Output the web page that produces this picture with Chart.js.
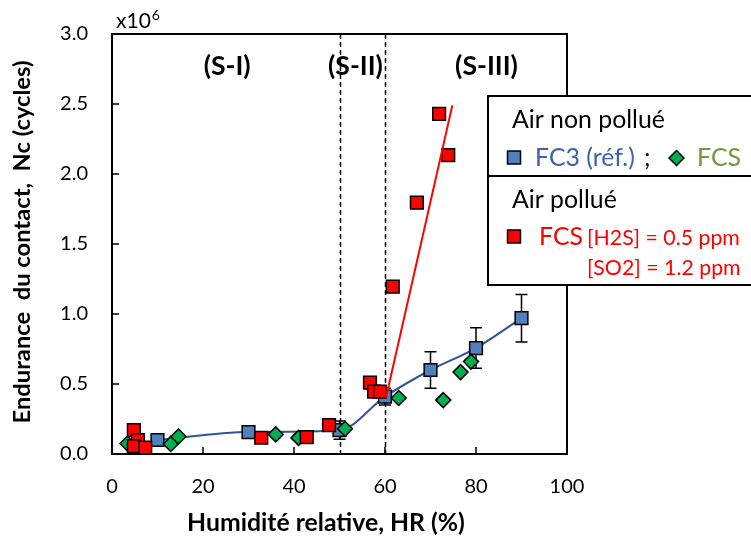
<!DOCTYPE html>
<html><head><meta charset="utf-8">
<script src="https://cdn.jsdelivr.net/npm/chart.js@4/dist/chart.umd.min.js"></script>
<style>html,body{margin:0;padding:0;background:#fff}#c{display:block}</style>
</head><body>
<canvas id="c" width="751" height="544"></canvas>
<script>
// ---- data ----
const xTickValues = [0, 20, 40, 60, 80, 100];
const yTickValues = [0, 0.5, 1.0, 1.5, 2.0, 2.5, 3.0];
const fc3X   = [10, 30, 50, 60, 70, 80, 90];
const fc3Y   = [0.10, 0.157, 0.17, 0.41, 0.60, 0.757, 0.97];
const fc3Err = [0, 0, 0.065, 0.06, 0.13, 0.145, 0.17];
const fcsX   = [3.4, 12.9, 14.6, 36.0, 41.0, 51.2, 63.0, 72.8, 76.6, 78.9];
const fcsY   = [0.075, 0.072, 0.125, 0.14, 0.115, 0.18, 0.40, 0.385, 0.585, 0.66];
const polX   = [4.8, 5.7, 4.8, 7.3, 32.8, 42.8, 47.7, 56.7, 57.6, 58.9, 61.7, 67.0, 71.9, 73.9];
const polY   = [0.17, 0.10, 0.057, 0.045, 0.116, 0.12, 0.207, 0.51, 0.445, 0.445, 1.195, 1.795, 2.43, 2.135];
const polFitX = [60.2, 74.8];
const polFitY = [0.40, 2.49];
const zoneBounds = [50, 60];
const zoneLabels = ['(S-I)', '(S-II)', '(S-III)'];
const zoneLabelX = [25.3, 53.5, 82.3];

const FONT = 'Lato, "Open Sans", sans-serif';
const pts = (xs, ys) => xs.map((x, i) => ({x: x, y: ys[i]}));

function fitFont(ctx, text, weight, target) {
  ctx.font = weight + ' 20px ' + FONT;
  const w = ctx.measureText(text).width;
  return 20 * target / w;
}

const decor = {
  id: 'decor',
  beforeDatasetsDraw(chart) {
    const ctx = chart.ctx, xs = chart.scales.x, ys = chart.scales.y, a = chart.chartArea;
    ctx.save();
    ctx.strokeStyle = '#000'; ctx.lineWidth = 1.5; ctx.setLineDash([5, 3]);
    zoneBounds.forEach(v => {
      const px = Math.round(xs.getPixelForValue(v)) + 0.5;
      ctx.beginPath(); ctx.moveTo(px, a.top); ctx.lineTo(px, a.bottom); ctx.stroke();
    });
    ctx.setLineDash([]);
    ctx.lineWidth = 1.5;
    fc3X.forEach((x, i) => {
      const e = fc3Err[i]; if (!e) return;
      const px = xs.getPixelForValue(x);
      const t = ys.getPixelForValue(fc3Y[i] + e), b = ys.getPixelForValue(fc3Y[i] - e);
      ctx.beginPath();
      ctx.moveTo(px, t); ctx.lineTo(px, b);
      ctx.moveTo(px - 6, t); ctx.lineTo(px + 6, t);
      ctx.moveTo(px - 6, b); ctx.lineTo(px + 6, b);
      ctx.stroke();
    });
    ctx.restore();
  },
  afterDraw(chart) {
    const ctx = chart.ctx, xs = chart.scales.x, ys = chart.scales.y, a = chart.chartArea;
    ctx.save();
    ctx.strokeStyle = '#000'; ctx.lineWidth = 2;
    ctx.strokeRect(a.left, a.top, a.right - a.left, a.bottom - a.top);
    ctx.lineWidth = 1.5;
    ctx.beginPath();
    xs.ticks.forEach(t => { const p = xs.getPixelForValue(t.value); ctx.moveTo(p, a.bottom); ctx.lineTo(p, a.bottom - 7); });
    ys.ticks.forEach(t => { const p = ys.getPixelForValue(t.value); ctx.moveTo(a.left, p); ctx.lineTo(a.left + 7, p); });
    ctx.stroke();
    ctx.fillStyle = '#000';
    ctx.textAlign = 'center'; ctx.textBaseline = 'middle';
    const zs = fitFont(ctx, '(S-I)', 'bold', 47);
    ctx.font = 'bold ' + zs + 'px ' + FONT;
    zoneLabels.forEach((s, i) => ctx.fillText(s, xs.getPixelForValue(zoneLabelX[i]), 66));
    ctx.textAlign = 'left'; ctx.textBaseline = 'alphabetic';
    ctx.font = '21px ' + FONT;
    ctx.fillText('x10', 116, 28);
    const w10 = ctx.measureText('x10').width;
    ctx.font = '14px ' + FONT;
    ctx.fillText('6', 116 + w10 + 1, 20);
    const yt = 'Endurance  du contact,  Nc (cycles)';
    ctx.font = 'bold ' + fitFont(ctx, yt, 'bold', 363) + 'px ' + FONT;
    ctx.save(); ctx.translate(22, 242); ctx.rotate(-Math.PI / 2);
    ctx.textAlign = 'center'; ctx.textBaseline = 'middle';
    ctx.fillText(yt, 0, 0); ctx.restore();
    const xt = 'Humidité relative, HR (%)';
    ctx.font = 'bold ' + fitFont(ctx, xt, 'bold', 278) + 'px ' + FONT;
    ctx.textAlign = 'center'; ctx.textBaseline = 'middle';
    ctx.fillText(xt, 326, 523);
    ctx.fillStyle = '#fff';
    ctx.fillRect(488, 96, 300, 189);
    ctx.strokeStyle = '#000'; ctx.lineWidth = 2;
    ctx.strokeRect(488, 96, 300, 189);
    ctx.beginPath(); ctx.moveTo(488, 176); ctx.lineTo(751, 176); ctx.stroke();
    const ls = fitFont(ctx, 'Air non pollué', 'normal', 153);
    const big = ls + 'px ' + FONT;
    const small = fitFont(ctx, '[H2S] = 0.5 ppm', 'normal', 153) + 'px ' + FONT;
    ctx.textAlign = 'left'; ctx.textBaseline = 'alphabetic';
    ctx.font = big; ctx.fillStyle = '#000';
    ctx.fillText('Air non pollué', 512, 128);
    ctx.fillText('Air pollué', 512, 208);
    ctx.lineWidth = 1.5; ctx.strokeStyle = '#000';
    ctx.fillStyle = '#4f81bd'; ctx.fillRect(507.5, 151, 13, 13); ctx.strokeRect(507.5, 151, 13, 13);
    ctx.fillStyle = '#ff0000'; ctx.fillRect(507.5, 230, 13, 13); ctx.strokeRect(507.5, 230, 13, 13);
    ctx.fillStyle = '#00b050';
    ctx.beginPath(); ctx.moveTo(676.5, 150.5); ctx.lineTo(684, 158); ctx.lineTo(676.5, 165.5); ctx.lineTo(669, 158); ctx.closePath();
    ctx.fill(); ctx.stroke();
    ctx.font = big;
    ctx.fillStyle = '#3c64a4'; ctx.fillText('FC3 (réf.)', 535, 166);
    ctx.fillStyle = '#000'; ctx.fillText(';', 644, 166);
    ctx.fillStyle = '#6f9a3c'; ctx.fillText('FCS', 697, 166);
    ctx.fillStyle = '#ff0000'; ctx.fillText('FCS', 539, 245);
    ctx.font = small;
    ctx.fillText('[H2S] = 0.5 ppm', 587, 245);
    ctx.fillText('[SO2] = 1.2 ppm', 587, 275);
    ctx.restore();
  }
};

new Chart(document.getElementById('c'), {
  type: 'scatter',
  data: {
    datasets: [
      { label: 'fit', data: pts(polFitX, polFitY), showLine: true, borderColor: '#ff0000', borderWidth: 2, pointRadius: 0, order: 0 },
      { label: 'FCS pollué', data: pts(polX, polY), pointStyle: 'rect', pointRadius: 9, backgroundColor: '#ff0000', borderColor: '#000', borderWidth: 1.5, order: 1 },
      { label: 'FCS', data: pts(fcsX, fcsY), pointStyle: 'rectRot', pointRadius: 7.5, backgroundColor: '#00b050', borderColor: '#000', borderWidth: 1.5, order: 2 },
      { label: 'FC3 (réf.)', data: pts(fc3X, fc3Y), showLine: true, cubicInterpolationMode: 'monotone', borderColor: '#2f5597', borderWidth: 2,
        pointStyle: 'rect', pointRadius: 9, pointBackgroundColor: '#4f81bd', pointBorderColor: '#000', pointBorderWidth: 1.5, order: 3 }
    ]
  },
  options: {
    responsive: false, animation: false, events: [],
    layout: { padding: { left: 0, top: 34, right: 184, bottom: 0 } },
    plugins: { legend: { display: false }, tooltip: { enabled: false } },
    scales: {
      x: {
        type: 'linear', min: 0, max: 100,
        afterBuildTicks: s => { s.ticks = xTickValues.map(v => ({value: v})); },
        ticks: { color: '#000', font: { family: FONT, size: 20 }, padding: 21, callback: v => String(v) },
        grid: { display: false, drawTicks: false }, border: { display: false },
        afterFit: s => { s.height = 90; s.paddingLeft = 0; s.paddingRight = 0; }
      },
      y: {
        type: 'linear', min: 0, max: 3,
        afterBuildTicks: s => { s.ticks = yTickValues.map(v => ({value: v})); },
        ticks: { color: '#000', font: { family: FONT, size: 20 }, padding: 24, callback: v => Number(v).toFixed(1) },
        grid: { display: false, drawTicks: false }, border: { display: false },
        afterFit: s => { s.width = 112; s.paddingTop = 0; s.paddingBottom = 0; }
      }
    }
  },
  plugins: [decor]
});
</script>
</body></html>
